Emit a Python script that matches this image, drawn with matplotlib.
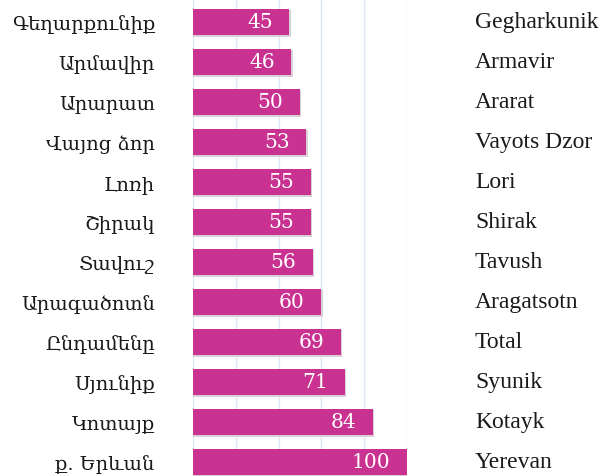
import matplotlib.pyplot as plt

# data, top to bottom as in the picture
regions_hy = ["Գեղարքունիք", "Արմավիր", "Արարատ", "Վայոց ձոր", "Լոռի", "Շիրակ",
              "Տավուշ", "Արագածոտն", "Ընդամենը", "Սյունիք", "Կոտայք", "ք. Երևան"]
regions_en = ["Gegharkunik", "Armavir", "Ararat", "Vayots Dzor", "Lori", "Shirak",
              "Tavush", "Aragatsotn", "Total", "Syunik", "Kotayk", "Yerevan"]
values = [45, 46, 50, 53, 55, 55, 56, 60, 69, 71, 84, 100]

bar_color = "#C93291"
grid_color = "#DCE6F4"

fig = plt.figure(figsize=(6.16, 4.77), dpi=100)
ax = fig.add_axes([193 / 616, 0, (407 - 193) / 616, 1])

n = len(values)
ypos = [n - 1 - i for i in range(n)]

# faint shadow on the right side of each bar
ax.barh([y - 0.03 for y in ypos], [v + 0.6 for v in values], height=0.67,
        color="#D8D0D4", zorder=2)
ax.barh(ypos, values, height=0.67, color=bar_color, zorder=3)

for y, v in zip(ypos, values):
    ax.annotate(str(v), (v, y), xytext=(-12, 0), textcoords="offset points",
                ha="right", va="center", color="white", fontsize=14.5,
                family=["DejaVu Serif"], zorder=4)

ax.set_xlim(0, 100)
ax.set_ylim(-0.35, n - 1 + 0.575)
ax.set_xticks(range(0, 101, 20))
ax.grid(axis="x", color=grid_color, linewidth=1, zorder=0)
ax.tick_params(left=False, bottom=False, labelbottom=False)
ax.set_yticks(ypos)
ax.set_yticklabels(regions_hy, family=["DejaVu Serif"], fontsize=14, color="#1a1a1a")
ax.tick_params(axis="y", pad=24)
for s in ax.spines.values():
    s.set_visible(False)

for y, name in zip(ypos, regions_en):
    ax.annotate(name, (1, y), xycoords=("axes fraction", "data"),
                xytext=(49, 0), textcoords="offset points", ha="left", va="center",
                fontsize=17, family=["Liberation Serif"], color="#1a1a1a")

fig.savefig("out.png", dpi=100)
